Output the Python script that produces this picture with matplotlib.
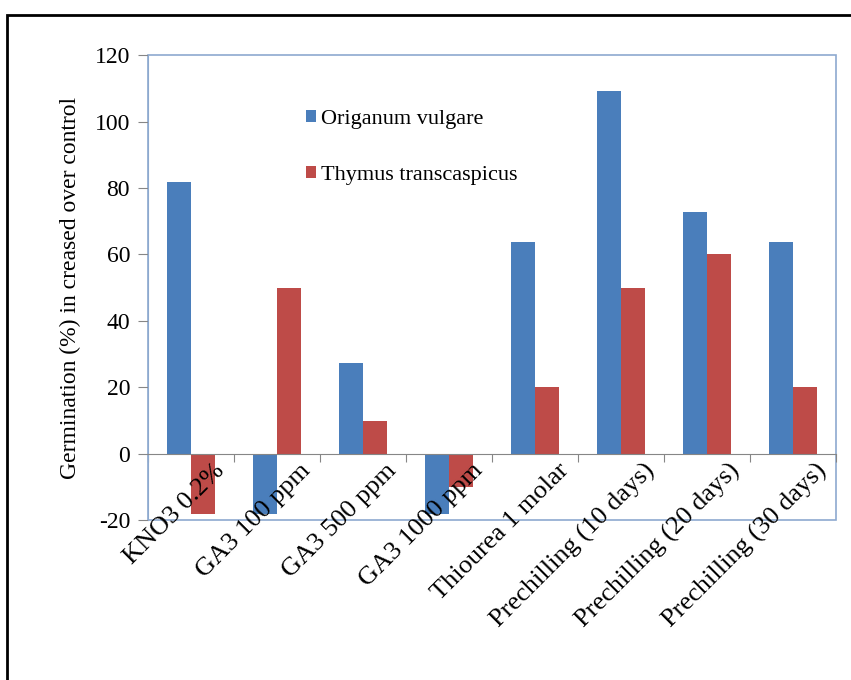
import numpy as np
import matplotlib.pyplot as plt
from matplotlib.patches import Rectangle

categories = ["KNO3 0.2%", "GA3 100 ppm", "GA3 500 ppm", "GA3 1000 ppm",
              "Thiourea 1 molar", "Prechilling (10 days)",
              "Prechilling (20 days)", "Prechilling (30 days)"]
origanum = [81.8, -18.2, 27.3, -18.2, 63.6, 109.1, 72.7, 63.6]
thymus = [-18.0, 50.0, 10.0, -10.0, 20.0, 50.0, 60.0, 20.0]
yticks = [-20, 0, 20, 40, 60, 80, 100, 120]

blue = "#4A7EBB"
red = "#BE4B48"
frame = "#8DA9CF"
axis_gray = "#868686"

plt.rcParams['font.family'] = ['Liberation Serif', 'DejaVu Serif']
plt.rcParams['axes.unicode_minus'] = False

fig = plt.figure(figsize=(8.51, 6.8), dpi=100)
ax = fig.add_axes([0.174, 0.235, 0.808, 0.684])

# outer frame of the picture
fig.patches.append(Rectangle((0.008, -0.1), 1.2, 1.078, transform=fig.transFigure,
                             fill=False, edgecolor="black", linewidth=2))

x = np.arange(len(categories))
w = 0.28
ax.bar(x - w / 2, origanum, w, color=blue, label="Origanum vulgare")
ax.bar(x + w / 2, thymus, w, color=red, label="Thymus transcaspicus")

ax.set_xlim(-0.5, len(categories) - 0.5)
ax.set_ylim(-20, 120)
ax.set_yticks(yticks)
ax.tick_params(axis='y', direction='out', length=7, color=axis_gray, labelsize=17, pad=6)

# category axis sits on the zero line
ax.spines['bottom'].set_position(('data', 0))
ax.spines['bottom'].set_color(axis_gray)
ax.spines['left'].set_color(frame)
for s in ['top', 'right']:
    ax.spines[s].set_visible(False)
ax.add_patch(Rectangle((0, 0), 1, 1, transform=ax.transAxes, fill=False,
                       edgecolor=frame, linewidth=1.2, clip_on=False))

ax.set_xticks(np.arange(len(categories) + 1) - 0.5)
ax.set_xticklabels([])
ax.tick_params(axis='x', direction='out', length=6, color=axis_gray)

for i, lab in enumerate(categories):
    ax.text(i + 0.35, -4.0, lab, rotation=45, rotation_mode='anchor',
            ha='right', va='center', fontsize=19)

ax.set_ylabel("Germination (%) in creased over control", fontsize=17, labelpad=10)

ax.legend(loc='upper left', bbox_to_anchor=(0.2, 0.925), frameon=False,
          handlelength=0.45, handleheight=0.45, handletextpad=0.25,
          labelspacing=1.65, fontsize=16)

fig.savefig("out.png", dpi=100)
